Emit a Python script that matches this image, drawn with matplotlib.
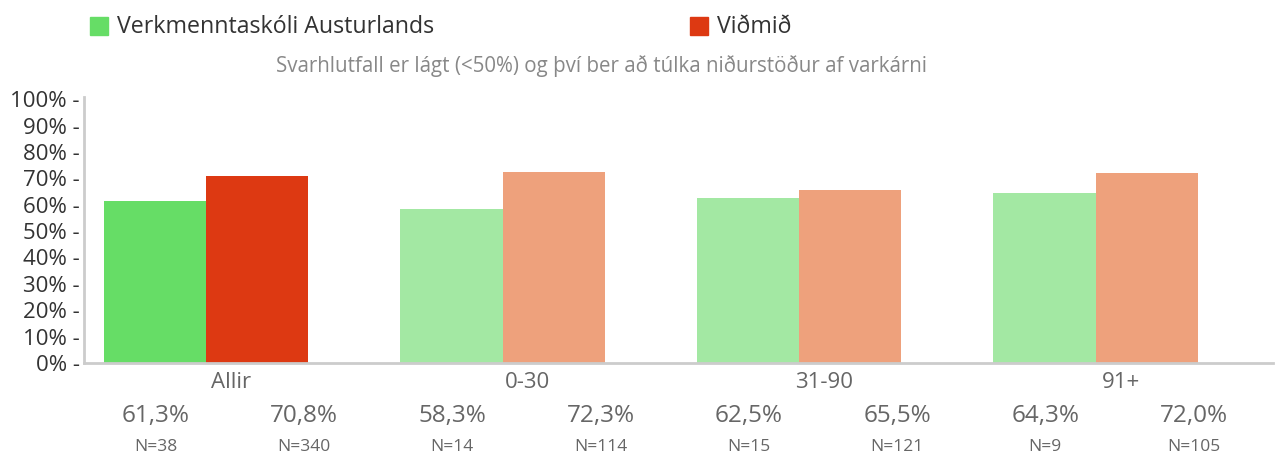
import matplotlib
matplotlib.use("Agg")
import matplotlib.pyplot as plt
from matplotlib.patches import Rectangle
import numpy as np

plt.rcParams['font.family'] = ['Open Sans', 'DejaVu Sans']

# Data
categories = ["Allir", "0-30", "31-90", "91+"]
school_vals = [61.3, 58.3, 62.5, 64.3]
bench_vals = [70.8, 72.3, 65.5, 72.0]
school_n = [38, 14, 15, 9]
bench_n = [340, 114, 121, 105]
series_names = ["Verkmenntaskóli Austurlands", "Viðmið"]
yticks = [0, 10, 20, 30, 40, 50, 60, 70, 80, 90, 100]

# colours: first group strong, the rest light
school_colors = ["#66dd66", "#a3e8a3", "#a3e8a3", "#a3e8a3"]
bench_colors = ["#dd3912", "#eea17c", "#eea17c", "#eea17c"]

W, H = 1279, 454
fig = plt.figure(figsize=(W / 100, H / 100), dpi=100)
ax = fig.add_axes([84 / W, 1 - 363 / H, (1273 - 84) / W, (363 - 97) / H])

x = np.arange(len(categories))
bw = 0.345
ax.bar(x - bw / 2, school_vals, bw, color=school_colors, linewidth=0)
ax.bar(x + bw / 2, bench_vals, bw, color=bench_colors, linewidth=0)

ax.set_xlim(-0.412, 3.598)
ax.set_ylim(0, 100.8)
ax.set_yticks(yticks)
ax.set_yticklabels([f"{v}% -" for v in yticks], fontsize=16, color="#333333")
ax.tick_params(axis="y", length=0, pad=3)
ax.set_xticks([])

for s in ["top", "right"]:
    ax.spines[s].set_visible(False)
for s in ["left", "bottom"]:
    ax.spines[s].set_color("#cccccc")
    ax.spines[s].set_linewidth(2)

# labels under the axis
trans = ax.get_xaxis_transform()
for i, c in enumerate(categories):
    ax.text(i + 0.085, -0.075, c, transform=trans, ha="center", va="center",
            fontsize=16, color="#666666")
    for j, (v, n) in enumerate([(school_vals[i], school_n[i]), (bench_vals[i], bench_n[i])]):
        xp = i - 0.17 + 0.5 * j
        ax.text(xp, -0.20, f"{v:.1f}%".replace(".", ","), transform=trans,
                ha="center", va="center", fontsize=17.5, color="#666666")
        ax.text(xp, -0.315, f"N={n}", transform=trans,
                ha="center", va="center", fontsize=12.5, color="#666666")

# legend
for xs, name, col in [(90, series_names[0], school_colors[0]), (690, series_names[1], bench_colors[0])]:
    fig.patches.append(Rectangle((xs / W, 1 - 35 / H), 18 / W, 18 / H,
                                 transform=fig.transFigure, color=col))
    fig.text((xs + 27) / W, 1 - 27 / H, name, ha="left", va="center",
             fontsize=16.7, color="#333333")

fig.text(602 / W, 1 - 66 / H,
         "Svarhlutfall er lágt (<50%) og því ber að túlka niðurstöður af varkárni",
         ha="center", va="center", fontsize=14.8, color="#888888")

fig.savefig("out.png", dpi=100)
